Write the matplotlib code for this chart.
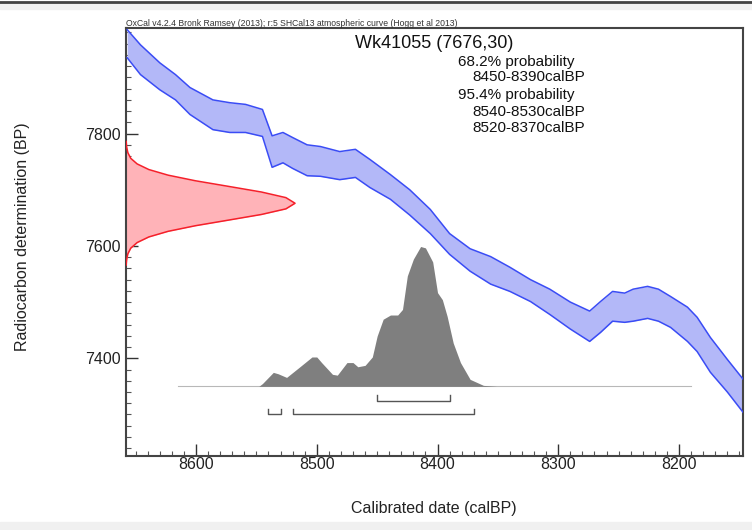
import matplotlib
matplotlib.use("Agg")
import matplotlib.pyplot as plt
from matplotlib.lines import Line2D
from matplotlib.patches import Rectangle
import numpy as np

plt.rcParams['font.family'] = ['Liberation Sans', 'DejaVu Sans']

# Calibration curve band (calBP, upper/lower BP)
curve_years = [8657, 8646, 8630, 8617, 8605, 8586, 8572, 8559, 8545, 8537, 8528, 8520,
               8508, 8497, 8481, 8468, 8456, 8439, 8423, 8406, 8390, 8373, 8356, 8340,
               8323, 8307, 8290, 8274, 8265, 8255, 8245, 8238, 8226, 8217, 8207, 8193,
               8185, 8174, 8160, 8147]
curve_upper = [7985, 7958, 7926, 7905, 7882, 7860, 7855, 7852, 7843, 7796, 7802, 7793,
               7780, 7777, 7768, 7772, 7754, 7727, 7700, 7665, 7622, 7595, 7581, 7562,
               7540, 7523, 7500, 7484, 7501, 7519, 7516, 7523, 7528, 7523, 7510, 7491,
               7473, 7437, 7398, 7363]
curve_lower = [7935, 7905, 7878, 7860, 7834, 7807, 7802, 7802, 7795, 7740, 7748, 7738,
               7725, 7724, 7718, 7722, 7704, 7683, 7655, 7622, 7585, 7555, 7532, 7519,
               7501, 7478, 7452, 7430, 7446, 7466, 7464, 7466, 7471, 7466, 7455, 7430,
               7412, 7375, 7340, 7304]

# Radiocarbon determination (BP) and relative probability
c14_bp = [7786, 7776, 7766, 7756, 7746, 7736, 7726, 7716, 7706, 7696, 7686, 7676,
          7666, 7656, 7646, 7636, 7626, 7616, 7606, 7596, 7586, 7576, 7566]
c14_prob = [0.001, 0.004, 0.011, 0.028, 0.066, 0.135, 0.249, 0.411, 0.607, 0.801,
            0.946, 1.0, 0.946, 0.801, 0.607, 0.411, 0.249, 0.135, 0.066, 0.028,
            0.011, 0.004, 0.001]

# Calibrated probability distribution
cal_years = [8548, 8545, 8536, 8532, 8525, 8514, 8504, 8500, 8496, 8487, 8483, 8475, 8470,
             8466, 8460, 8454, 8450, 8445, 8439, 8433, 8429, 8425, 8420, 8414, 8410,
             8404, 8400, 8396, 8392, 8387, 8381, 8373, 8362, 8351]
cal_prob = [0.0, 0.02, 0.10, 0.09, 0.064, 0.14, 0.21, 0.21, 0.17, 0.086, 0.08, 0.17, 0.17,
            0.14, 0.15, 0.21, 0.36, 0.48, 0.51, 0.51, 0.55, 0.79, 0.91, 1.0, 0.99,
            0.89, 0.67, 0.62, 0.50, 0.31, 0.17, 0.05, 0.007, 0.0]

range68 = [(8450, 8390)]
range95 = [(8540, 8530), (8520, 8370)]

title = "Wk41055 (7676,30)"
info_lines = ["68.2% probability", "8450-8390calBP", "95.4% probability",
              "8540-8530calBP", "8520-8370calBP"]
header = "OxCal v4.2.4 Bronk Ramsey (2013); r:5 SHCal13 atmospheric curve (Hogg et al 2013)"

x_left, x_right = 8658, 8147
y_bot, y_top = 7226, 7988
base_bp = 7350
cal_height = 249
c14_width = 140

fig = plt.figure(figsize=(7.52, 5.30), dpi=100)
ax = fig.add_axes([126/752, 1-456/530, (743-126)/752, (456-28)/530])

# calibration curve
ax.fill_between(curve_years, curve_lower, curve_upper, color='#b3b8f8', lw=0, zorder=2)
ax.plot(curve_years, curve_upper, color='#3a4cf5', lw=1.1, zorder=3)
ax.plot(curve_years, curve_lower, color='#3a4cf5', lw=1.1, zorder=3)

# radiocarbon determination
cx = [x_left - p * c14_width for p in c14_prob]
ax.fill_betweenx(c14_bp, x_left, cx, color='#ffb3b8', lw=0, zorder=2)
ax.plot(cx, c14_bp, color='#f5202a', lw=1.1, zorder=3)

# calibrated distribution
ax.plot([8615, 8190], [base_bp, base_bp], color='#b8b8b8', lw=0.8, zorder=2)
cy = [base_bp + p * cal_height for p in cal_prob]
ax.fill_between(cal_years, base_bp, cy, color='#7f7f7f', lw=0, zorder=3)

# ranges
def bracket(a, b, y, h=10):
    ax.plot([a, a, b, b], [y + h, y, y, y + h], color='#555555', lw=1.0, zorder=3)

for a, b in range68:
    bracket(a, b, 7324)
for a, b in range95:
    bracket(a, b, 7300)

ax.set_xlim(x_left, x_right)
ax.set_ylim(y_bot, y_top)
ax.set_xticks([8600, 8500, 8400, 8300, 8200])
ax.set_xticks(np.arange(8150, 8660, 10), minor=True)
ax.set_yticks([7400, 7600, 7800])
ax.set_yticks(np.arange(7240, 7990, 20), minor=True)
ax.tick_params(which='major', direction='in', length=8.5, width=1.0, color='#333333',
               labelsize=11.5, labelcolor='#222222')
ax.tick_params(which='minor', direction='in', length=3.5, width=0.8, color='#555555')
ax.tick_params(axis='x', which='major', pad=1)
ax.tick_params(axis='y', which='major', pad=4)
for s in ax.spines.values():
    s.set_color('#444444')
    s.set_linewidth(1.5)

fig.text(434/752, 1-508/530, "Calibrated date (calBP)", fontsize=11.5, color='#222222',
         ha='center', va='center')
fig.text(23/752, 1-237/530, "Radiocarbon determination (BP)", fontsize=11.5, color='#222222',
         ha='center', va='center', rotation=90)

fig.text(126/752, 1-23/530, header, fontsize=6.2, color='#333333', ha='left', va='center')
fig.text(355/752, 1-43/530, title, fontsize=13, color='#111111', ha='left', va='center')
ys = [62, 77, 95, 112, 128]
xs = [458, 472, 458, 472, 472]
for t, xx, yy in zip(info_lines, xs, ys):
    fig.text(xx/752, 1-yy/530, t, fontsize=11, color='#111111', ha='left', va='center')

# screenshot framing
fig.add_artist(Line2D([0, 1], [1-2/530, 1-2/530], color='#444444', lw=2, transform=fig.transFigure))
fig.add_artist(Rectangle((0, 1-9/530), 1, 6/530, color='#f2f2f2', transform=fig.transFigure, zorder=0))
fig.add_artist(Rectangle((0, 0), 1, 8/530, color='#f0f0f0', transform=fig.transFigure, zorder=0))

fig.savefig("out.png", dpi=100)
